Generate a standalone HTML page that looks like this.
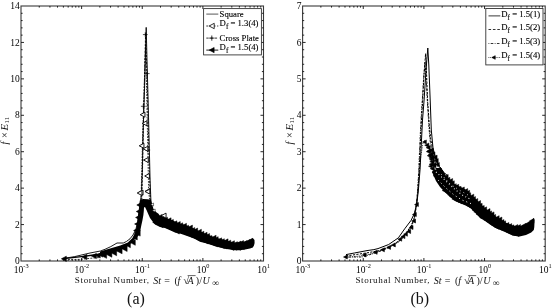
<!DOCTYPE html><html><head><meta charset="utf-8"><style>
html,body{margin:0;padding:0;background:#fff;width:553px;height:308px;overflow:hidden}
svg{display:block;filter:grayscale(1)}
text{font-family:"Liberation Serif",serif;fill:#111}
.tk{font-size:9.5px;fill:#000}
.sup{font-size:6.3px}
.lg{font-size:8.7px;fill:#000;stroke:#000;stroke-width:0.12px}
.al{font-size:8.6px;letter-spacing:0.35px}
.cap{font-size:16px}
</style></head><body>
<svg width="553" height="308" viewBox="0 0 553 308">
<rect width="553" height="308" fill="#fff"/>
<rect x="21" y="6" width="242.5" height="255" fill="none" stroke="#3a3a3a" stroke-width="1.1"/>
<path d="M21 253.71h1.6 M263.5 253.71h-1.6 M21 246.43h1.6 M263.5 246.43h-1.6 M21 239.14h1.6 M263.5 239.14h-1.6 M21 231.86h1.6 M263.5 231.86h-1.6 M21 224.57h3 M263.5 224.57h-3 M21 217.29h1.6 M263.5 217.29h-1.6 M21 210h1.6 M263.5 210h-1.6 M21 202.71h1.6 M263.5 202.71h-1.6 M21 195.43h1.6 M263.5 195.43h-1.6 M21 188.14h3 M263.5 188.14h-3 M21 180.86h1.6 M263.5 180.86h-1.6 M21 173.57h1.6 M263.5 173.57h-1.6 M21 166.29h1.6 M263.5 166.29h-1.6 M21 159h1.6 M263.5 159h-1.6 M21 151.71h3 M263.5 151.71h-3 M21 144.43h1.6 M263.5 144.43h-1.6 M21 137.14h1.6 M263.5 137.14h-1.6 M21 129.86h1.6 M263.5 129.86h-1.6 M21 122.57h1.6 M263.5 122.57h-1.6 M21 115.29h3 M263.5 115.29h-3 M21 108h1.6 M263.5 108h-1.6 M21 100.71h1.6 M263.5 100.71h-1.6 M21 93.43h1.6 M263.5 93.43h-1.6 M21 86.14h1.6 M263.5 86.14h-1.6 M21 78.86h3 M263.5 78.86h-3 M21 71.57h1.6 M263.5 71.57h-1.6 M21 64.29h1.6 M263.5 64.29h-1.6 M21 57h1.6 M263.5 57h-1.6 M21 49.71h1.6 M263.5 49.71h-1.6 M21 42.43h3 M263.5 42.43h-3 M21 35.14h1.6 M263.5 35.14h-1.6 M21 27.86h1.6 M263.5 27.86h-1.6 M21 20.57h1.6 M263.5 20.57h-1.6 M21 13.29h1.6 M263.5 13.29h-1.6 M39.25 261v-1.6 M39.25 6v1.6 M49.93 261v-1.6 M49.93 6v1.6 M57.5 261v-1.6 M57.5 6v1.6 M63.38 261v-1.6 M63.38 6v1.6 M68.18 261v-1.6 M68.18 6v1.6 M72.23 261v-1.6 M72.23 6v1.6 M75.75 261v-1.6 M75.75 6v1.6 M78.85 261v-1.6 M78.85 6v1.6 M81.62 261v-3 M81.62 6v3 M99.87 261v-1.6 M99.87 6v1.6 M110.55 261v-1.6 M110.55 6v1.6 M118.12 261v-1.6 M118.12 6v1.6 M124 261v-1.6 M124 6v1.6 M128.8 261v-1.6 M128.8 6v1.6 M132.86 261v-1.6 M132.86 6v1.6 M136.37 261v-1.6 M136.37 6v1.6 M139.48 261v-1.6 M139.48 6v1.6 M142.25 261v-3 M142.25 6v3 M160.5 261v-1.6 M160.5 6v1.6 M171.18 261v-1.6 M171.18 6v1.6 M178.75 261v-1.6 M178.75 6v1.6 M184.63 261v-1.6 M184.63 6v1.6 M189.43 261v-1.6 M189.43 6v1.6 M193.48 261v-1.6 M193.48 6v1.6 M197 261v-1.6 M197 6v1.6 M200.1 261v-1.6 M200.1 6v1.6 M202.88 261v-3 M202.88 6v3 M221.12 261v-1.6 M221.12 6v1.6 M231.8 261v-1.6 M231.8 6v1.6 M239.37 261v-1.6 M239.37 6v1.6 M245.25 261v-1.6 M245.25 6v1.6 M250.05 261v-1.6 M250.05 6v1.6 M254.11 261v-1.6 M254.11 6v1.6 M257.62 261v-1.6 M257.62 6v1.6 M260.73 261v-1.6 M260.73 6v1.6" stroke="#111" stroke-width="0.9" fill="none"/>
<text x="19.8" y="264.1" class="tk" text-anchor="end">0</text>
<text x="19.8" y="227.67" class="tk" text-anchor="end">2</text>
<text x="19.8" y="191.24" class="tk" text-anchor="end">4</text>
<text x="19.8" y="154.81" class="tk" text-anchor="end">6</text>
<text x="19.8" y="118.39" class="tk" text-anchor="end">8</text>
<text x="19.8" y="81.96" class="tk" text-anchor="end">10</text>
<text x="19.8" y="45.53" class="tk" text-anchor="end">12</text>
<text x="19.8" y="9.1" class="tk" text-anchor="end">14</text>
<text x="21.2" y="272.6" class="tk" text-anchor="middle">10<tspan class="sup" dy="-4.6">-3</tspan></text>
<text x="81.83" y="272.6" class="tk" text-anchor="middle">10<tspan class="sup" dy="-4.6">-2</tspan></text>
<text x="142.45" y="272.6" class="tk" text-anchor="middle">10<tspan class="sup" dy="-4.6">-1</tspan></text>
<text x="203.07" y="272.6" class="tk" text-anchor="middle">10<tspan class="sup" dy="-4.6">0</tspan></text>
<text x="263.7" y="272.6" class="tk" text-anchor="middle">10<tspan class="sup" dy="-4.6">1</tspan></text>
<rect x="302.6" y="6" width="242.6" height="255" fill="none" stroke="#3a3a3a" stroke-width="1.1"/>
<path d="M302.6 253.71h1.6 M545.2 253.71h-1.6 M302.6 246.43h1.6 M545.2 246.43h-1.6 M302.6 239.14h1.6 M545.2 239.14h-1.6 M302.6 231.86h1.6 M545.2 231.86h-1.6 M302.6 224.57h3 M545.2 224.57h-3 M302.6 217.29h1.6 M545.2 217.29h-1.6 M302.6 210h1.6 M545.2 210h-1.6 M302.6 202.71h1.6 M545.2 202.71h-1.6 M302.6 195.43h1.6 M545.2 195.43h-1.6 M302.6 188.14h3 M545.2 188.14h-3 M302.6 180.86h1.6 M545.2 180.86h-1.6 M302.6 173.57h1.6 M545.2 173.57h-1.6 M302.6 166.29h1.6 M545.2 166.29h-1.6 M302.6 159h1.6 M545.2 159h-1.6 M302.6 151.71h3 M545.2 151.71h-3 M302.6 144.43h1.6 M545.2 144.43h-1.6 M302.6 137.14h1.6 M545.2 137.14h-1.6 M302.6 129.86h1.6 M545.2 129.86h-1.6 M302.6 122.57h1.6 M545.2 122.57h-1.6 M302.6 115.29h3 M545.2 115.29h-3 M302.6 108h1.6 M545.2 108h-1.6 M302.6 100.71h1.6 M545.2 100.71h-1.6 M302.6 93.43h1.6 M545.2 93.43h-1.6 M302.6 86.14h1.6 M545.2 86.14h-1.6 M302.6 78.86h3 M545.2 78.86h-3 M302.6 71.57h1.6 M545.2 71.57h-1.6 M302.6 64.29h1.6 M545.2 64.29h-1.6 M302.6 57h1.6 M545.2 57h-1.6 M302.6 49.71h1.6 M545.2 49.71h-1.6 M302.6 42.43h3 M545.2 42.43h-3 M302.6 35.14h1.6 M545.2 35.14h-1.6 M302.6 27.86h1.6 M545.2 27.86h-1.6 M302.6 20.57h1.6 M545.2 20.57h-1.6 M302.6 13.29h1.6 M545.2 13.29h-1.6 M320.86 261v-1.6 M320.86 6v1.6 M331.54 261v-1.6 M331.54 6v1.6 M339.11 261v-1.6 M339.11 6v1.6 M344.99 261v-1.6 M344.99 6v1.6 M349.79 261v-1.6 M349.79 6v1.6 M353.86 261v-1.6 M353.86 6v1.6 M357.37 261v-1.6 M357.37 6v1.6 M360.47 261v-1.6 M360.47 6v1.6 M363.25 261v-3 M363.25 6v3 M381.51 261v-1.6 M381.51 6v1.6 M392.19 261v-1.6 M392.19 6v1.6 M399.76 261v-1.6 M399.76 6v1.6 M405.64 261v-1.6 M405.64 6v1.6 M410.44 261v-1.6 M410.44 6v1.6 M414.51 261v-1.6 M414.51 6v1.6 M418.02 261v-1.6 M418.02 6v1.6 M421.12 261v-1.6 M421.12 6v1.6 M423.9 261v-3 M423.9 6v3 M442.16 261v-1.6 M442.16 6v1.6 M452.84 261v-1.6 M452.84 6v1.6 M460.41 261v-1.6 M460.41 6v1.6 M466.29 261v-1.6 M466.29 6v1.6 M471.09 261v-1.6 M471.09 6v1.6 M475.16 261v-1.6 M475.16 6v1.6 M478.67 261v-1.6 M478.67 6v1.6 M481.77 261v-1.6 M481.77 6v1.6 M484.55 261v-3 M484.55 6v3 M502.81 261v-1.6 M502.81 6v1.6 M513.49 261v-1.6 M513.49 6v1.6 M521.06 261v-1.6 M521.06 6v1.6 M526.94 261v-1.6 M526.94 6v1.6 M531.74 261v-1.6 M531.74 6v1.6 M535.81 261v-1.6 M535.81 6v1.6 M539.32 261v-1.6 M539.32 6v1.6 M542.42 261v-1.6 M542.42 6v1.6" stroke="#111" stroke-width="0.9" fill="none"/>
<text x="301.4" y="264.1" class="tk" text-anchor="end">0</text>
<text x="301.4" y="227.67" class="tk" text-anchor="end">1</text>
<text x="301.4" y="191.24" class="tk" text-anchor="end">2</text>
<text x="301.4" y="154.81" class="tk" text-anchor="end">3</text>
<text x="301.4" y="118.39" class="tk" text-anchor="end">4</text>
<text x="301.4" y="81.96" class="tk" text-anchor="end">5</text>
<text x="301.4" y="45.53" class="tk" text-anchor="end">6</text>
<text x="301.4" y="9.1" class="tk" text-anchor="end">7</text>
<text x="302.8" y="272.6" class="tk" text-anchor="middle">10<tspan class="sup" dy="-4.6">-3</tspan></text>
<text x="363.45" y="272.6" class="tk" text-anchor="middle">10<tspan class="sup" dy="-4.6">-2</tspan></text>
<text x="424.1" y="272.6" class="tk" text-anchor="middle">10<tspan class="sup" dy="-4.6">-1</tspan></text>
<text x="484.75" y="272.6" class="tk" text-anchor="middle">10<tspan class="sup" dy="-4.6">0</tspan></text>
<text x="545.4" y="272.6" class="tk" text-anchor="middle">10<tspan class="sup" dy="-4.6">1</tspan></text>
<polygon points="100,251.5 105,250 112.6,247.8 120.3,245.5 127.9,242.5 132.5,237.9 135.5,231.8 137,224.2 137.8,216.5 139,208 139.8,200.5 143,199 147.5,199.2 150.8,199.8 152,204 153.5,209 156,212 158.5,213.8 160,216 165,217.7 170,219.5 175,221.4 180,223.7 185,224.8 190,227.1 195,229.2 200,231.4 205,233.7 210,235.4 215,237.7 220,238.8 225,240.2 230,241.5 235,242.7 240,242.1 245,241.5 250,239.8 252.8,238.1 254.5,240 254.6,243 254,245.5 252.8,247.4 250,248.5 245,249.6 240,250.2 235,250.2 230,249.6 225,248.8 220,247.5 215,246.3 210,244.6 205,242.9 200,241.8 195,239 190,236.9 185,235.2 180,233.5 175,232.4 170,230.2 165,228 160,226.9 155,224.6 152.6,221.5 150,218 148,213.5 146.5,210 145,207 144,207.5 143.8,211 143.4,215 142.5,220 141.2,226 140.2,231 138.6,235.5 134,240 129.5,245 125,247.5 120.3,249.5 115.5,251.5 110,253 104,254.2 100,255" fill="#000"/>
<path d="M157.18 217.04L162.14 214.42L162.14 219.65ZM161.32 218.11L164.37 216.51L164.37 219.72ZM164.69 218.73L167.47 217.27L167.47 220.19ZM166.01 220.43L171.07 217.77L171.07 223.09ZM170.21 221.07L173.36 219.41L173.36 222.73ZM173.87 222.4L176.87 220.82L176.87 223.98ZM175.99 223.74L180.24 221.51L180.24 225.97ZM179.19 224.63L182.71 222.77L182.71 226.48ZM181.64 225.89L186.44 223.36L186.44 228.41ZM185.33 226.93L188.59 225.21L188.59 228.64ZM187.46 227.72L192.42 225.11L192.42 230.33ZM191.27 229.38L194.73 227.56L194.73 231.21ZM193.5 230.19L197.62 228.02L197.62 232.36ZM196.47 231.83L201.37 229.25L201.37 234.41ZM199.58 233.47L203.9 231.2L203.9 235.75ZM202.19 234.84L207.06 232.28L207.06 237.41ZM205.21 235.82L209.58 233.52L209.58 238.13ZM209.06 237.02L211.89 235.53L211.89 238.51ZM211.29 237.69L216.07 235.17L216.07 240.21ZM214.07 238.81L218.17 236.65L218.17 240.96ZM218.2 239.67L221.65 237.86L221.65 241.48ZM221.17 240.41L224.33 238.74L224.33 242.07ZM223.34 241.32L228.05 238.84L228.05 243.8ZM226.65 242.29L230.73 240.14L230.73 244.43ZM229.5 243.31L234.41 240.72L234.41 245.89ZM232.9 244.03L237.42 241.64L237.42 246.41ZM235.98 243.7L240.95 241.08L240.95 246.31ZM239.5 242.65L243.54 240.52L243.54 244.78ZM242.66 242.91L247.02 240.62L247.02 245.2ZM245.85 241.63L250 239.45L250 243.82ZM249.09 240.16L252.41 238.41L252.41 241.91Z" fill="#000" stroke="#000" stroke-width="0.5"/>
<path d="M152.68 222.48L156.68 220.38L156.68 224.59ZM156.15 223.94L159.68 222.09L159.68 225.8ZM158.45 225.3L163.14 222.83L163.14 227.77ZM163.14 226.35L166.53 224.56L166.53 228.13ZM165.88 227.18L169.79 225.12L169.79 229.24ZM169.01 228.59L172.53 226.74L172.53 230.44ZM171.75 229.82L175.43 227.88L175.43 231.76ZM174.34 231.43L179.34 228.8L179.34 234.06ZM179.21 232.12L182.17 230.56L182.17 233.67ZM181.99 232.72L185.74 230.74L185.74 234.7ZM185.08 234.16L188.33 232.45L188.33 235.87ZM188.48 235.45L192.02 233.59L192.02 237.31ZM190.93 236.15L195.99 233.49L195.99 238.81ZM194.6 238.09L198.09 236.26L198.09 239.93ZM197.14 239.36L201.28 237.18L201.28 241.54ZM200.59 240.23L204.29 238.29L204.29 242.18ZM203.87 241.68L208.29 239.35L208.29 244.01ZM207.12 242.32L210.89 240.34L210.89 244.3ZM210.97 243.64L214.09 242L214.09 245.28ZM213.86 244.9L217.59 242.94L217.59 246.87ZM216.9 245.35L220.57 243.42L220.57 247.28ZM219.79 246.2L224.37 243.79L224.37 248.6ZM223.03 246.91L227.06 244.79L227.06 249.03ZM227.36 247.24L230.53 245.57L230.53 248.91ZM229.52 248.16L233.82 245.9L233.82 250.42ZM233.55 248.43L236.97 246.63L236.97 250.23ZM236.84 248.27L240.76 246.21L240.76 250.33ZM241.01 247.88L244.24 246.18L244.24 249.58Z" fill="#000" stroke="#000" stroke-width="0.5"/>
<path d="M95.65 255.65L100.25 253.23L100.25 258.06ZM100.02 254.88L106.64 251.4L106.64 258.36ZM105.33 253.83L111.87 250.39L111.87 257.27ZM110.23 252.36L116.65 248.98L116.65 255.74ZM116.06 250.65L122.08 247.48L122.08 253.82ZM120.87 248.22L127.15 244.92L127.15 251.53ZM126.8 245.79L130.38 243.9L130.38 247.67ZM129.8 242.37L135.31 239.47L135.31 245.27ZM132.95 237.61L137.29 235.33L137.29 239.9ZM134.36 233.05L140.2 229.98L140.2 236.12Z" fill="#000" stroke="#000" stroke-width="0.5"/>
<path d="M136.8 205L140.98 202.8L140.98 207.2Z" fill="#000" stroke="#000" stroke-width="0.6"/>
<path d="M136.3 211.5L140.48 209.3L140.48 213.7Z" fill="#000" stroke="#000" stroke-width="0.6"/>
<path d="M135.6 217.5L139.78 215.3L139.78 219.7Z" fill="#000" stroke="#000" stroke-width="0.6"/>
<path d="M134.6 224L138.78 221.8L138.78 226.2Z" fill="#000" stroke="#000" stroke-width="0.6"/>
<path d="M133.6 230.5L137.78 228.3L137.78 232.7Z" fill="#000" stroke="#000" stroke-width="0.6"/>
<polyline points="62.5,258.8 66,258.3 83.5,256.3 93.5,255 100.5,254" fill="none" stroke="#000" stroke-width="1.3"/>
<path d="M61.4 258.8L66.34 256.2L66.34 261.4Z" fill="#000" stroke="#000" stroke-width="0.6"/>
<path d="M81.9 257L86.84 254.4L86.84 259.6Z" fill="#000" stroke="#000" stroke-width="0.6"/>
<path d="M91.4 256L96.34 253.4L96.34 258.6Z" fill="#000" stroke="#000" stroke-width="0.6"/>
<path d="M97.9 254.5L102.84 251.9L102.84 257.1Z" fill="#000" stroke="#000" stroke-width="0.6"/>
<polyline points="68,259.4 80,259.4 90,258.3 100,257.5" fill="none" stroke="#000" stroke-width="0.8" stroke-dasharray="2,1.2"/>
<polyline points="66,258 74.3,256.7 90,253 100.4,251 105,249.3 110.8,246.6 117,243 123.3,243 126.4,241.5 130,238.8 133,235 135.8,229.5 137.6,222.6 138.9,215 140,205 141.4,195 142.3,170 143.2,130 144.8,80 146.2,27.4 147,60 148.1,100 149.1,140 150.1,180 150.8,198 151.3,205 152.3,210.5" fill="none" stroke="#000" stroke-width="0.9"/>
<polyline points="141.8,200 142.5,170 143.5,120 144.7,70 145.6,33 146.5,60 147.4,90 148.3,130 149.3,170 150.4,200 151,207" fill="none" stroke="#000" stroke-width="0.9" stroke-dasharray="2.2,1.3"/>
<path d="M142.9 34.6h4.8M145.3 32.2v4.8" stroke="#000" stroke-width="0.7" fill="none"/>
<path d="M144.8 73.6h4.8M147.2 71.2v4.8" stroke="#000" stroke-width="0.7" fill="none"/>
<path d="M140.9 106.3h4.8M143.3 103.9v4.8" stroke="#000" stroke-width="0.7" fill="none"/>
<path d="M145.4 150h4.8M147.8 147.6v4.8" stroke="#000" stroke-width="0.7" fill="none"/>
<polyline points="141,200 141.8,170 142.8,130 144.3,85 145.5,45 146.3,75 147,110 147.8,150 148.6,190 149.6,200 150.3,206" fill="none" stroke="#000" stroke-width="0.8" stroke-dasharray="1.6,1.2"/>
<path d="M140.2 114.7L144.95 112.2L144.95 117.2Z" fill="#fff" stroke="#000" stroke-width="0.9"/>
<path d="M142.2 123.3L146.95 120.8L146.95 125.8Z" fill="#fff" stroke="#000" stroke-width="0.9"/>
<path d="M139.2 145.8L143.95 143.3L143.95 148.3Z" fill="#fff" stroke="#000" stroke-width="0.9"/>
<path d="M143.1 148.8L147.85 146.3L147.85 151.3Z" fill="#fff" stroke="#000" stroke-width="0.9"/>
<path d="M144.7 176L149.45 173.5L149.45 178.5Z" fill="#fff" stroke="#000" stroke-width="0.9"/>
<path d="M138.3 192.6L143.05 190.1L143.05 195.1Z" fill="#fff" stroke="#000" stroke-width="0.9"/>
<path d="M145.5 191L150.25 188.5L150.25 193.5Z" fill="#fff" stroke="#000" stroke-width="0.9"/>
<path d="M137.2 193L141.95 190.5L141.95 195.5Z" fill="#fff" stroke="#000" stroke-width="0.9"/>
<path d="M145.1 191.6L149.85 189.1L149.85 194.1Z" fill="#fff" stroke="#000" stroke-width="0.9"/>
<path d="M161.3 215.6L166.05 213.1L166.05 218.1Z" fill="#fff" stroke="#000" stroke-width="0.9"/>
<path d="M143.5 160L148.25 157.5L148.25 162.5Z" fill="#fff" stroke="#000" stroke-width="0.9"/>
<path d="M150.7 204.5L153.55 203L153.55 206Z" fill="#fff" stroke="#000" stroke-width="0.5"/>
<path d="M152.3 210.5L155.15 209L155.15 212Z" fill="#fff" stroke="#000" stroke-width="0.5"/>
<polygon points="436,168 441.4,168 446,175.9 455,184.7 460.2,186.7 465,189.3 470,194.5 475,198.6 480.2,203.6 485,208.2 490,212.1 495,216.1 505,222.2 513,225.8 519.5,226.4 526,224.5 531.2,220.6 533.8,218 534.6,220 534.3,227 533.8,229.9 531.2,232.5 526,235.1 519.5,236.4 513,235.7 505,231.9 495,227.7 490,224.6 485,220.7 480.2,218.2 475,212.5 470,207.7 465,205.2 460.2,203.2 455,200.7 450,196.7 445,192.2 440,187 436,181 432,172" fill="#000"/>
<path d="M443.53 176.85L448.15 174.41L448.15 179.28ZM446.94 178.87L449.88 177.32L449.88 180.42ZM447.73 181.06L452.61 178.5L452.61 183.63ZM449.85 183.1L454.28 180.77L454.28 185.43ZM452.94 185.42L456.26 183.68L456.26 187.17ZM454.97 186.31L458.69 184.35L458.69 188.27ZM458.25 187.79L461.05 186.32L461.05 189.26ZM461.24 188.59L464.3 186.98L464.3 190.2ZM463.42 190.85L467.66 188.61L467.66 193.08ZM465.09 192.73L469.61 190.35L469.61 195.11ZM467.49 194.41L470.65 192.75L470.65 196.08ZM469.41 196.42L473.76 194.13L473.76 198.71ZM471.85 198.47L475.46 196.57L475.46 200.37ZM473.75 200.65L477.74 198.55L477.74 202.75ZM475.88 203.03L480.55 200.58L480.55 205.49ZM478.85 204.95L482.12 203.23L482.12 206.67ZM481.07 207.04L484.2 205.4L484.2 208.69ZM482.9 208.81L486.61 206.86L486.61 210.76ZM485 211.24L490.01 208.61L490.01 213.88ZM487.95 212.86L491.62 210.93L491.62 214.79ZM489.34 214.34L494.02 211.88L494.02 216.81ZM492.48 216.09L495.61 214.45L495.61 217.74ZM494.64 218.01L499.13 215.65L499.13 220.37ZM497.14 219.56L501.87 217.07L501.87 222.05ZM500.4 221.49L503.97 219.61L503.97 223.37ZM502.39 222.55L505.59 220.86L505.59 224.23ZM505.95 224.05L508.9 222.5L508.9 225.61ZM508.68 225.23L511.74 223.62L511.74 226.83ZM510.51 226.64L513.91 224.85L513.91 228.43ZM513.66 226.76L517.77 224.59L517.77 228.92ZM515.75 227.08L520.51 224.57L520.51 229.59ZM520.12 226.92L523.44 225.18L523.44 228.67ZM521.5 225.67L526.39 223.09L526.39 228.25ZM525.09 224.26L528.2 222.63L528.2 225.9ZM527.64 222.56L531.53 220.51L531.53 224.6ZM529.47 220.89L533.93 218.54L533.93 223.23Z" fill="#000" stroke="#000" stroke-width="0.5"/>
<path d="M438.3 182.13L441.49 180.45L441.49 183.8ZM439.58 184.46L443.74 182.28L443.74 186.65ZM441.32 187.4L444.29 185.84L444.29 188.96ZM442.18 190.5L447.02 187.95L447.02 193.04ZM445.73 192.5L448.9 190.84L448.9 194.17ZM447.67 194.69L451.47 192.69L451.47 196.69ZM449.44 196.54L453.96 194.16L453.96 198.92ZM451.79 198.91L456.63 196.36L456.63 201.46ZM454.93 200.32L459.01 198.18L459.01 202.47ZM457.71 201.6L462.02 199.33L462.02 203.87ZM461.05 202.6L465.02 200.51L465.02 204.69ZM463.99 203.61L468.68 201.13L468.68 206.08ZM466.99 205.76L470.23 204.05L470.23 207.46ZM469.27 207.05L473.59 204.78L473.59 209.32ZM472.07 209.95L476.19 207.78L476.19 212.12ZM473.77 211.82L477.57 209.82L477.57 213.83ZM475.98 214.1L479.71 212.14L479.71 216.06ZM479.12 216.26L481.85 214.83L481.85 217.7ZM481.33 217.65L485.36 215.53L485.36 219.78ZM483.78 219.94L487.51 217.98L487.51 221.9ZM486.26 221.59L490.42 219.39L490.42 223.78ZM489.22 223.48L493 221.5L493 225.47ZM491.19 224.81L496.07 222.25L496.07 227.38ZM494.62 226.99L498.93 224.72L498.93 229.26ZM497.81 227.99L502.04 225.76L502.04 230.21ZM500.79 228.99L504.02 227.28L504.02 230.69ZM503.76 230.5L507.45 228.56L507.45 232.44ZM505.53 231.52L510.46 228.93L510.46 234.12ZM509.36 233.11L512.89 231.25L512.89 234.98ZM512.96 234.04L516.06 232.41L516.06 235.68ZM515.24 234.65L518.86 232.74L518.86 236.55Z" fill="#000" stroke="#000" stroke-width="0.5"/>
<polyline points="436,172 446,181 455,189.5 463,195.5 470,199" fill="none" stroke="#fff" stroke-width="1.1" stroke-dasharray="0.9,2.6"/>
<polyline points="441,174 450,184 460,190.5 468,195" fill="none" stroke="#fff" stroke-width="0.9" stroke-dasharray="0.8,3.4"/>
<polyline points="438,180 446,188 454,195 462,200 472,204" fill="none" stroke="#fff" stroke-width="1" stroke-dasharray="1,3"/>
<polyline points="431,158 433,165 436,170" fill="none" stroke="#fff" stroke-width="0.9" stroke-dasharray="0.8,3.2"/>
<path d="M422.52 141.99L426.39 139.95L426.39 144.02ZM424.65 145.21L428.88 142.99L428.88 147.43ZM426.06 147.66L430.26 145.44L430.26 149.87ZM427.12 151.04L431.4 148.78L431.4 153.29ZM428.35 154.42L433.15 151.9L433.15 156.95ZM428.85 157.99L434.06 155.25L434.06 160.73ZM429.76 161.72L434.24 159.36L434.24 164.09ZM431.25 165.28L436.07 162.75L436.07 167.82Z" fill="#000" stroke="#000" stroke-width="0.5"/>
<path d="M429.55 150.31L433.3 148.34L433.3 152.28ZM431.91 153.48L434.93 151.9L434.93 155.07ZM432.37 157.58L437.09 155.1L437.09 160.07ZM434.22 160.67L438.23 158.55L438.23 162.78ZM435.44 164.5L439.35 162.44L439.35 166.56Z" fill="#000" stroke="#000" stroke-width="0.5"/>
<path d="M428.51 166.24L432.34 164.23L432.34 168.26Z" fill="#000" stroke="#000" stroke-width="0.5"/>
<path d="M426.28 151.61L430.26 149.51L430.26 153.71ZM427.21 155.71L431.6 153.4L431.6 158.02ZM429.44 159.66L431.95 158.34L431.95 160.97ZM429.1 164.31L433.58 161.96L433.58 166.67ZM430.16 168.66L434.38 166.44L434.38 170.88ZM431.94 172.06L434.53 170.7L434.53 173.43ZM433.24 175.83L437.42 173.63L437.42 178.03Z" fill="#000" stroke="#000" stroke-width="0.5"/>
<polyline points="346,254.6 354.4,253 367,250.6 373.9,249.6 378,248.6 388.7,244.5 398.4,237.8 404.7,228.8 411.2,220.2 414.5,213 416.9,203 418.4,190 420,170 421,150 422.5,120 424.1,100 426,70 427.8,48 428.8,65 430.2,100 431.3,130 433,148 436.5,162 442,171 448,176" fill="none" stroke="#000" stroke-width="1"/>
<polyline points="346,256 365,253.2 380,250.5 392,245.5 400,240 406,233 411,226 414.5,218 416.5,205 418,190 419.2,170 420.3,145 421.5,120 422.7,100 424,75 425.6,53.6 426.6,75 427.6,100 429.3,125 430.8,140 433.5,152 438,164 445,174" fill="none" stroke="#000" stroke-width="1" stroke-dasharray="2.2,1.3"/>
<polyline points="348.5,257 362,257 372,254 382,250.5 392,246 400,241 406,234 411,227 414,219 416,207 417.5,192 418.8,170 419.8,145 421,120 422.3,100 423.5,80 425,62 426.2,80 427.3,100 428.8,125 430,140 431.8,150 434,160 440,170" fill="none" stroke="#000" stroke-width="0.9" stroke-dasharray="2.4,1,0.8,1"/>
<polyline points="345,257.5 364.3,255.5 375.3,252.5 382.6,250 388.7,247.6 393.5,245 398.4,241.3 402,237.6 405.6,234.2 408.8,231.5 411.2,227.5 413.7,221 414.5,214.5 416.6,205 418,190 419.5,170 421,155 423,143 425,140" fill="none" stroke="#000" stroke-width="0.9" stroke-dasharray="0.8,1"/>
<path d="M343.5 257L347.3 255L347.3 259Z" fill="#000" stroke="#000" stroke-width="0.6"/>
<path d="M362.3 255L366.1 253L366.1 257Z" fill="#000" stroke="#000" stroke-width="0.6"/>
<path d="M373.3 252.3L377.1 250.3L377.1 254.3Z" fill="#000" stroke="#000" stroke-width="0.6"/>
<path d="M380.6 249.8L384.4 247.8L384.4 251.8Z" fill="#000" stroke="#000" stroke-width="0.6"/>
<path d="M386.7 247.4L390.5 245.4L390.5 249.4Z" fill="#000" stroke="#000" stroke-width="0.6"/>
<path d="M391.5 244.9L395.3 242.9L395.3 246.9Z" fill="#000" stroke="#000" stroke-width="0.6"/>
<path d="M397.9 239.2L401.7 237.2L401.7 241.2Z" fill="#000" stroke="#000" stroke-width="0.6"/>
<path d="M401.1 236.6L404.9 234.6L404.9 238.6Z" fill="#000" stroke="#000" stroke-width="0.6"/>
<path d="M403.6 234.2L407.4 232.2L407.4 236.2Z" fill="#000" stroke="#000" stroke-width="0.6"/>
<path d="M406.8 231.5L410.6 229.5L410.6 233.5Z" fill="#000" stroke="#000" stroke-width="0.6"/>
<path d="M409.2 227.5L413 225.5L413 229.5Z" fill="#000" stroke="#000" stroke-width="0.6"/>
<path d="M411.7 221L415.5 219L415.5 223Z" fill="#000" stroke="#000" stroke-width="0.6"/>
<path d="M412.5 214.5L416.3 212.5L416.3 216.5Z" fill="#000" stroke="#000" stroke-width="0.6"/>
<path d="M414.6 204.6L418.4 202.6L418.4 206.6Z" fill="#000" stroke="#000" stroke-width="0.6"/>
<rect x="203.6" y="8.6" width="57.8" height="46.3" fill="#fff" stroke="#333" stroke-width="0.9"/>
<path d="M206.3 14.1H218.3" stroke="#444" stroke-width="0.9"/>
<text x="219.6" y="17" class="lg">Square</text>
<path d="M206.3 26H218.3" stroke="#000" stroke-width="0.8" stroke-dasharray="2,1.6"/>
<path d="M209.1 26L214.23 23.3L214.23 28.7Z" fill="#fff" stroke="#000" stroke-width="0.8"/>
<text x="219.6" y="25.5" class="lg">D<tspan font-size="7.2px" dy="3">f</tspan><tspan dy="-3"> = 1.3(4)</tspan></text>
<path d="M206.3 38.1H218.3" stroke="#000" stroke-width="0.8" stroke-dasharray="2.4,1.8"/>
<path d="M209.2 38.1h5.2M211.8 35.5v5.2" stroke="#000" stroke-width="0.8" fill="none"/>
<text x="219.6" y="40.8" class="lg">Cross Plate</text>
<path d="M206.3 50.1H218.3" stroke="#000" stroke-width="0.9"/>
<path d="M209.2 50.1L214.14 47.5L214.14 52.7Z" fill="#000" stroke="#000" stroke-width="0.6"/>
<text x="219.6" y="49.5" class="lg">D<tspan font-size="7.2px" dy="3">f</tspan><tspan dy="-3"> = 1.5(4)</tspan></text>
<rect x="485.8" y="8.5" width="57.2" height="56.4" fill="#fff" stroke="#333" stroke-width="0.9"/>
<path d="M488.5 15.9H500.3" stroke="#222" stroke-width="0.9"/>
<path d="M488.5 29.5H500.3" stroke="#000" stroke-width="0.8" stroke-dasharray="2.6,1.8"/>
<path d="M488.5 43.5H500.3" stroke="#000" stroke-width="0.8" stroke-dasharray="0.8,1.4,2.6,1.4"/>
<path d="M488.5 57.5H500.3" stroke="#000" stroke-width="0.8" stroke-dasharray="0.8,1"/>
<path d="M491.8 57.5L495.22 55.7L495.22 59.3Z" fill="#000" stroke="#000" stroke-width="0.6"/>
<text x="501.3" y="16.6" class="lg">D<tspan font-size="7.2px" dy="3">f</tspan><tspan dy="-3"> = 1.5(1)</tspan></text>
<text x="501.3" y="30.1" class="lg">D<tspan font-size="7.2px" dy="3">f</tspan><tspan dy="-3"> = 1.5(2)</tspan></text>
<text x="501.3" y="43.9" class="lg">D<tspan font-size="7.2px" dy="3">f</tspan><tspan dy="-3"> = 1.5(3)</tspan></text>
<text x="501.3" y="57.5" class="lg">D<tspan font-size="7.2px" dy="3">f</tspan><tspan dy="-3"> = 1.5(4)</tspan></text>
<text x="74.8" y="283.4" style="font-size:9.1px" textLength="74.2" lengthAdjust="spacing">Storuhal Number,</text>
<text x="153.2" y="283.6" style="font-size:10px;font-style:italic">St</text>
<text x="164.2" y="283.6" style="font-size:10px">=</text>
<text x="174.5" y="283.6" style="font-size:10px">(</text>
<text x="177.6" y="283.6" style="font-size:10px;font-style:italic">f</text>
<text x="183.6" y="283.6" style="font-size:10px">&#8730;</text>
<text x="187.4" y="283.6" style="font-size:10px;font-style:italic">A</text>
<text x="195.8" y="283.6" style="font-size:10px">)</text>
<text x="199.2" y="283.6" style="font-size:10px">/</text>
<text x="202.6" y="283.6" style="font-size:10px;font-style:italic">U</text>
<text x="212.2" y="285.9" style="font-size:9.6px">&#8734;</text>
<path d="M187.6 275.6H195.6" stroke="#222" stroke-width="0.7"/>
<text x="355.4" y="283.4" style="font-size:9.1px" textLength="74.2" lengthAdjust="spacing">Storuhal Number,</text>
<text x="433.8" y="283.6" style="font-size:10px;font-style:italic">St</text>
<text x="444.8" y="283.6" style="font-size:10px">=</text>
<text x="455.1" y="283.6" style="font-size:10px">(</text>
<text x="458.2" y="283.6" style="font-size:10px;font-style:italic">f</text>
<text x="464.2" y="283.6" style="font-size:10px">&#8730;</text>
<text x="468" y="283.6" style="font-size:10px;font-style:italic">A</text>
<text x="476.4" y="283.6" style="font-size:10px">)</text>
<text x="479.8" y="283.6" style="font-size:10px">/</text>
<text x="483.2" y="283.6" style="font-size:10px;font-style:italic">U</text>
<text x="492.8" y="285.9" style="font-size:9.6px">&#8734;</text>
<path d="M468.2 275.6H476.2" stroke="#222" stroke-width="0.7"/>
<g transform="translate(8.4,0) rotate(-90)" style="font-size:10.2px"><text x="-144.6" y="0" style="font-style:italic">f</text><text x="-137.9" y="0">&#215;</text><text x="-130.4" y="0" style="font-style:italic" textLength="6.6" lengthAdjust="spacingAndGlyphs">E</text><text x="-123.4" y="0.6" style="font-size:6.6px">11</text></g>
<g transform="translate(293.2,0) rotate(-90)" style="font-size:10.2px"><text x="-144.6" y="0" style="font-style:italic">f</text><text x="-137.9" y="0">&#215;</text><text x="-130.4" y="0" style="font-style:italic" textLength="6.6" lengthAdjust="spacingAndGlyphs">E</text><text x="-123.4" y="0.6" style="font-size:6.6px">11</text></g>
<text x="136" y="303.7" class="cap" text-anchor="middle">(a)</text>
<text x="419.8" y="303.7" class="cap" text-anchor="middle">(b)</text>
</svg></body></html>
